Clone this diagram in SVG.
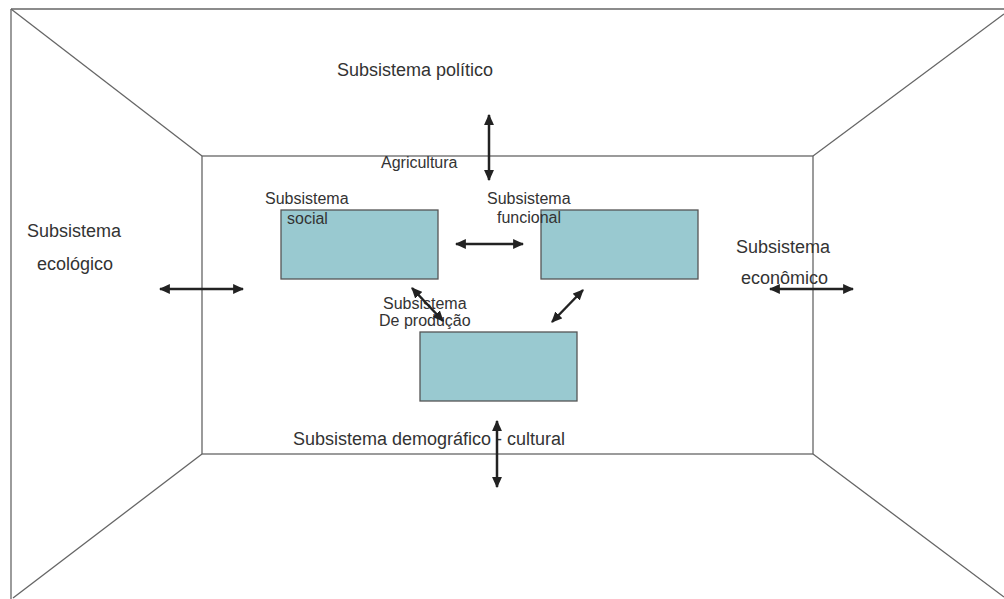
<svg xmlns="http://www.w3.org/2000/svg" width="1004" height="599" viewBox="0 0 1004 599">
<style>
.frame{fill:none;stroke:#666;stroke-width:1.3}
.box{fill:#99c9d0;stroke:#555;stroke-width:1.3}
.t{font-family:"Liberation Sans",Arial,sans-serif;fill:#333}
.s16{font-size:16px}
.s18{font-size:18px}
.arr{stroke:#222;stroke-width:2.5;fill:none;marker-start:url(#ah);marker-end:url(#ah)}
</style>
<defs>
<marker id="ah" viewBox="0 0 10 9" refX="9" refY="4.5" markerWidth="4.4" markerHeight="4" orient="auto-start-reverse" markerUnits="strokeWidth">
<path d="M0,0 L10,4.5 L0,9 Z" fill="#222"/>
</marker>
</defs>
<rect width="1004" height="599" fill="#fff"/>
<g id="frame">
<line class="frame" x1="11" y1="9" x2="1004" y2="9"/>
<line class="frame" x1="11" y1="9" x2="11" y2="599"/>
<rect class="frame" x="202" y="156" width="611" height="298"/>
<line class="frame" x1="11" y1="9" x2="202" y2="156"/>
<line class="frame" x1="813" y1="156" x2="1004" y2="14"/>
<line class="frame" x1="202" y1="454" x2="13" y2="598"/>
<line class="frame" x1="813" y1="454" x2="1004" y2="597"/>
</g>
<g id="node-social">
<rect class="box" x="281" y="210" width="157" height="69"/>
<text class="t s16" x="265" y="204">Subsistema</text>
<text class="t s16" x="287" y="224">social</text>
</g>
<g id="node-funcional">
<rect class="box" x="541" y="210" width="157" height="69"/>
<text class="t s16" x="487" y="204">Subsistema</text>
<text class="t s16" x="497" y="223">funcional</text>
</g>
<g id="node-producao">
<rect class="box" x="420" y="332" width="157" height="69"/>
<text class="t s16" x="383" y="309">Subsistema</text>
<text class="t s16" x="379" y="326">De produção</text>
</g>
<g id="label-politico"><text class="t s18" x="337" y="76">Subsistema político</text></g>
<g id="label-agricultura"><text class="t s16" x="381" y="168">Agricultura</text></g>
<g id="label-ecologico">
<text class="t s18" x="27" y="237">Subsistema</text>
<text class="t s18" x="37" y="270">ecológico</text>
</g>
<g id="label-economico">
<text class="t s18" x="736" y="253">Subsistema</text>
<text class="t s18" x="741" y="284">econômico</text>
</g>
<g id="label-demografico"><text class="t s18" x="293" y="445">Subsistema demográfico - cultural</text></g>
<g id="connectors">
<line class="arr" x1="489" y1="115" x2="489" y2="180"/>
<line class="arr" x1="456" y1="244" x2="523" y2="244"/>
<line class="arr" x1="160" y1="289" x2="243" y2="289"/>
<line class="arr" x1="770" y1="289" x2="853" y2="289"/>
<line class="arr" x1="497" y1="421" x2="497" y2="487"/>
<line class="arr" x1="412" y1="288" x2="443" y2="321"/>
<line class="arr" x1="583" y1="290" x2="552" y2="322"/>
</g>
</svg>
